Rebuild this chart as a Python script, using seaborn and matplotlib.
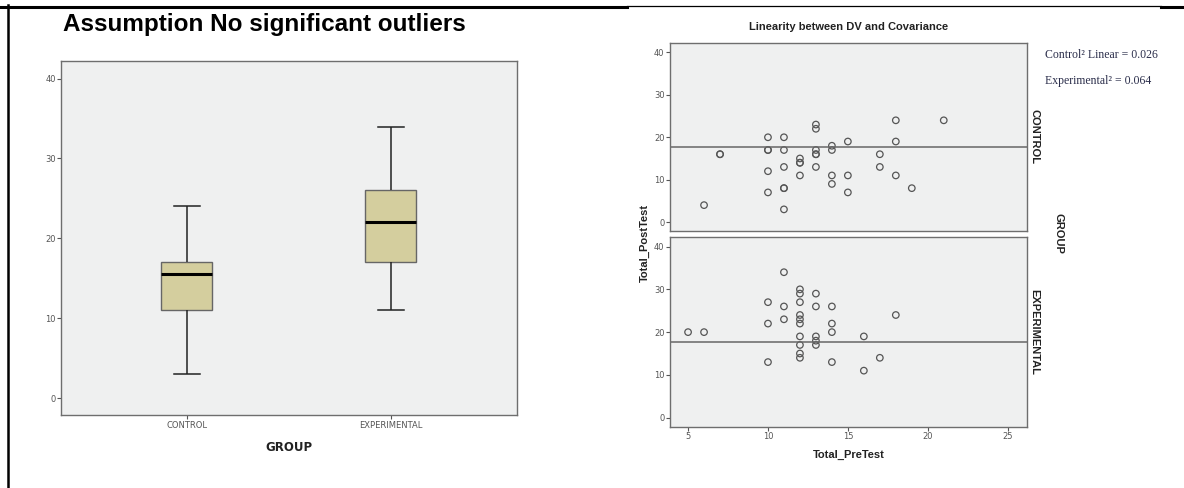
import pandas as pd
import numpy as np
import matplotlib
matplotlib.use("Agg")
import matplotlib.pyplot as plt
from matplotlib.lines import Line2D
import seaborn as sns

# datos del boxplot (resumen de cinco numeros)
grupos = ["CONTROL", "EXPERIMENTAL"]
box_min = [3, 11]
box_q1 = [11, 17]
box_med = [15.5, 22]
box_q3 = [17, 26]
box_max = [24, 34]

# datos del scatter: Total_PreTest vs Total_PostTest por grupo
control_pre = [6, 7, 7, 10, 10, 10, 10, 10, 11, 11, 11, 11, 11, 11, 12, 12, 12, 12,
               13, 13, 13, 13, 13, 13, 14, 14, 14, 14, 15, 15, 15, 17, 17, 18, 18, 18, 19, 21]
control_post = [4, 16, 16, 20, 17, 17, 12, 7, 20, 17, 13, 8, 8, 3, 15, 14, 14, 11,
                23, 22, 17, 16, 16, 13, 18, 17, 11, 9, 19, 11, 7, 16, 13, 24, 19, 11, 8, 24]
exp_pre = [5, 6, 10, 10, 10, 11, 11, 11, 12, 12, 12, 12, 12, 12, 12, 12, 12, 12,
           13, 13, 13, 13, 13, 14, 14, 14, 14, 16, 16, 17, 18]
exp_post = [20, 20, 27, 22, 13, 34, 26, 23, 30, 29, 27, 24, 23, 22, 19, 17, 15, 14,
            29, 26, 19, 18, 17, 26, 22, 20, 13, 19, 11, 14, 24]
linea_ajuste = [17.6, 17.6]
r2_texto = ["Control\u00b2 Linear = 0.026", "Experimental\u00b2 = 0.064"]

# armar dataframe largo para el boxplot
filas = []
for i, g in enumerate(grupos):
    for v in [box_min[i], box_q1[i], box_med[i], box_q3[i], box_max[i]]:
        filas.append({"GROUP": g, "Total_PostTest": v})
df_box = pd.DataFrame(filas)

df_ctrl = pd.DataFrame({"Total_PreTest": control_pre, "Total_PostTest": control_post})
df_exp = pd.DataFrame({"Total_PreTest": exp_pre, "Total_PostTest": exp_post})

fondo = "#EFF0F0"
gris = "#6E6E6E"
txt_gris = "#555555"

fig = plt.figure(figsize=(11.84, 4.88), dpi=100)
fig.patch.set_facecolor("white")

# bordes del documento
fig.add_artist(Line2D([0, 627 / 1184], [1 - 6.5 / 488] * 2, color="black", lw=2.2))
fig.add_artist(Line2D([627 / 1184, 1161 / 1184], [1 - 6 / 488] * 2, color="black", lw=0.9))
fig.add_artist(Line2D([1161 / 1184, 1], [1 - 6.5 / 488] * 2, color="black", lw=2.2))
fig.add_artist(Line2D([7.8 / 1184] * 2, [0, 1 - 5 / 488], color="black", lw=1.8))

# ---- boxplot ----
ax1 = fig.add_axes([61.3 / 1184, 73 / 488, 455.4 / 1184, 354 / 488])
sns.boxplot(data=df_box, x="GROUP", y="Total_PostTest", ax=ax1, color="#D4CE9E",
            saturation=1, width=0.25, linecolor="#3a3a3a", linewidth=1.0,
            showfliers=False,
            medianprops=dict(color="black", linewidth=2.2),
            boxprops=dict(edgecolor="#666666"),
            whiskerprops=dict(color="#222222", linewidth=1.1),
            capprops=dict(color="#222222", linewidth=1.1))
ax1.set_facecolor(fondo)
ax1.set_xlim(-0.615, 1.616)
ax1.set_ylim(-2.1, 42.2)
ax1.set_yticks([0, 10, 20, 30, 40])
ax1.set_xlabel("GROUP", fontsize=8.5, fontweight="bold", color="#222222", labelpad=8)
ax1.set_ylabel("")
ax1.tick_params(axis="both", labelsize=6, colors=txt_gris, length=3, width=0.8, pad=1)
for s in ax1.spines.values():
    s.set_color(gris)
    s.set_linewidth(1.0)

fig.text(264 / 1184, 1 - 25 / 488, "Assumption No significant outliers", ha="center",
         va="center", fontsize=17.5, fontweight="bold", family="Liberation Sans")

# ---- scatter por grupo ----
ax2 = fig.add_axes([670 / 1184, 257 / 488, 356.7 / 1184, 188.3 / 488])
ax3 = fig.add_axes([670 / 1184, 61.3 / 488, 356.7 / 1184, 190 / 488])
paneles = [(ax2, df_ctrl, "CONTROL"), (ax3, df_exp, "EXPERIMENTAL")]
for k, (ax, d, nombre) in enumerate(paneles):
    sns.scatterplot(data=d, x="Total_PreTest", y="Total_PostTest", ax=ax,
                    marker="o", s=22, facecolors="none", edgecolor="#555555",
                    linewidth=0.9)
    ax.axhline(linea_ajuste[k], color="#666666", lw=1.1)
    ax.set_facecolor(fondo)
    ax.set_xlim(3.87, 26.19)
    ax.set_ylim(-2.1, 42.3)
    ax.set_yticks([0, 10, 20, 30, 40])
    ax.set_xticks([5, 10, 15, 20, 25])
    ax.set_xlabel("")
    ax.set_ylabel("")
    ax.tick_params(axis="both", labelsize=6, colors=txt_gris, length=3, width=0.8, pad=1)
    for s in ax.spines.values():
        s.set_color(gris)
        s.set_linewidth(1.0)
    ax.text(1.022, 0.5, nombre, transform=ax.transAxes, rotation=-90, ha="center",
            va="center", fontsize=8, fontweight="bold", family="Liberation Sans",
            color="#222222")

ax2.tick_params(axis="x", bottom=False, labelbottom=False)
ax3.set_xlabel("Total_PreTest", fontsize=8, fontweight="bold", family="Liberation Sans",
               color="#222222", labelpad=6)
ax2.set_title("Linearity between DV and Covariance", fontsize=8, fontweight="bold",
              family="Liberation Sans", color="#222222", pad=9)

fig.text(645 / 1184, 1 - 243 / 488, "Total_PostTest", rotation=90, ha="center",
         va="center", fontsize=8, fontweight="bold", family="Liberation Sans", color="#222222")
fig.text(1058 / 1184, 1 - 233 / 488, "GROUP", rotation=-90, ha="center", va="center",
         fontsize=8, fontweight="bold", family="Liberation Sans", color="#222222")

fig.text(1045 / 1184, 1 - 55 / 488, r2_texto[0], ha="left", va="center", fontsize=8.5,
         family="Liberation Serif", color="#2a2d4a")
fig.text(1045 / 1184, 1 - 81 / 488, r2_texto[1], ha="left", va="center", fontsize=8.5,
         family="Liberation Serif", color="#2a2d4a")

fig.savefig("out.png", dpi=100, facecolor="white")
